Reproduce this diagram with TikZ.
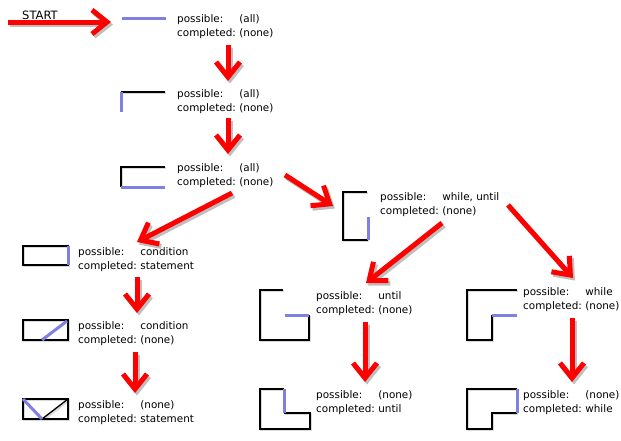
\documentclass[tikz,border=0pt]{standalone}
\usepackage{fontspec}
\setmainfont{DejaVu Sans}
\usetikzlibrary{arrows.meta}
\definecolor{hlblue}{RGB}{128,128,226}
\definecolor{flowred}{RGB}{255,0,0}
\tikzset{
  % connectors
  flow/.style   = {-{Straight Barb[length=15pt, width=24pt]}, draw=flowred, line width=5pt},
  flowshadow/.style = {flow, draw=black!25, transform canvas={shift={(2pt,-2.5pt)}}},
  % glyph strokes
  glyph/.style  = {draw=black, line width=1.3pt},
  glyphshadow/.style = {draw=black!15, line width=2.4pt, transform canvas={shift={(1pt,-1pt)}}},
  hilite/.style = {draw=hlblue, line width=3pt},
  % texts
  state/.style  = {anchor=west, inner sep=0pt, font=\fontsize{10.4}{14}\selectfont},
}
\newcommand{\pcstate}[2]{\begin{tabular}{@{}l@{\hspace{3.5pt}}l@{}}possible: & #1\\completed: & #2\end{tabular}}

\begin{document}
\begin{tikzpicture}[x=1pt, y=-1pt]
\useasboundingbox (0,0) rectangle (621,440);

% ---------- Start ----------
\node[anchor=west, inner sep=0pt, font=\fontsize{11.5}{12}\selectfont] (start) at (22,15) {START};

% ---------- Glyph outlines (shadow first) ----------
\foreach \s in {glyphshadow, glyph} {
  \draw[\s] (165,92) -- (121,92);
  \draw[\s] (165,167) -- (121,167) -- (121,187);
  \draw[\s] (23,246) rectangle (68,265);
  \draw[\s] (23,320) rectangle (68,340);
  \draw[\s] (23,399) rectangle (68,419);
  \draw[\s] (42,419) -- (68,399);
  \draw[\s] (367,192) -- (343,192) -- (343,240) -- (368,240);
  \draw[\s] (283,290) -- (260,290) -- (260,340) -- (309,340) -- (309,315);
  \draw[\s] (517,290) -- (467,290) -- (467,340) -- (492,340) -- (492,315);
  \draw[\s] (284,389) -- (260,389) -- (260,429) -- (310,429) -- (310,413) -- (284,413);
  \draw[\s] (517,389) -- (467,389) -- (467,429) -- (492,429) -- (492,413) -- (517,413);
}

% ---------- Highlighted strokes ----------
\draw[hilite] (122,18) -- (166,18);
\draw[hilite] (121,92) -- (121,112);
\draw[hilite] (121,187) -- (165,187);
\draw[hilite] (68,246) -- (68,265);
\draw[hilite] (42,340) -- (67,321);
\draw[hilite] (23,399) -- (42,419);
\draw[hilite] (368,240) -- (368,217);
\draw[hilite] (309,315) -- (285,315);
\draw[hilite] (492,315) -- (517,315);
\draw[hilite] (284,389) -- (284,413);
\draw[hilite] (517,389) -- (517,413);

% ---------- States ----------
\node[state] (tEmpty)    at (177,27)  {\pcstate{(all)}{(none)}};
\node[state] (tTop)      at (177,102) {\pcstate{(all)}{(none)}};
\node[state] (tOpen)     at (177,176) {\pcstate{(all)}{(none)}};
\node[state] (tBracket)  at (380,205) {\pcstate{while, until}{(none)}};
\node[state] (tCond)     at (78,260)  {\pcstate{condition}{statement}};
\node[state] (tDiag)     at (78,334)  {\pcstate{condition}{(none)}};
\node[state] (tDone)     at (78,413)  {\pcstate{(none)}{statement}};
\node[state] (tUntil)    at (316,304) {\pcstate{until}{(none)}};
\node[state] (tWhile)    at (523,300) {\pcstate{while}{(none)}};
\node[state] (tUntilEnd) at (316,403) {\pcstate{(none)}{until}};
\node[state] (tWhileEnd) at (523,403) {\pcstate{(none)}{while}};

% ---------- Connector ends ----------
\coordinate (f0a) at (8,22);    \coordinate (f0b) at (111,22);
\coordinate (f1a) at (228,45);  \coordinate (f1b) at (228,81);
\coordinate (f2a) at (228,118); \coordinate (f2b) at (228,154);
\coordinate (f3a) at (232,193); \coordinate (f3b) at (137,242);
\coordinate (f4a) at (285,175); \coordinate (f4b) at (333,206);
\coordinate (f5a) at (137,277); \coordinate (f5b) at (137,313);
\coordinate (f6a) at (135,352); \coordinate (f6b) at (135,393);
\coordinate (f7a) at (442,223); \coordinate (f7b) at (366,283);
\coordinate (f8a) at (508,205); \coordinate (f8b) at (573,278);
\coordinate (f9a) at (365,322); \coordinate (f9b) at (365,382);
\coordinate (fAa) at (572,318); \coordinate (fAb) at (572,382);

% ---------- Flow ----------
\foreach \e in {f0, f1, f2, f3, f4, f5, f6, f7, f8, f9, fA} {
  \draw[flowshadow] (\e a) -- (\e b);
  \draw[flow] (\e a) -- (\e b);
}

\end{tikzpicture}
\end{document}
